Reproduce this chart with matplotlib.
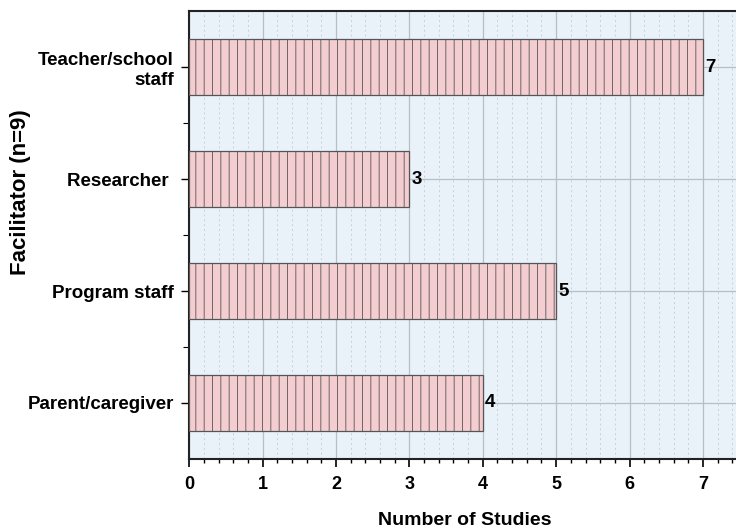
import matplotlib.pyplot as plt
from matplotlib.ticker import MultipleLocator

plt.rcParams['font.family'] = ['Liberation Sans', 'DejaVu Sans']
plt.rcParams['hatch.linewidth'] = 0.6
plt.rcParams['hatch.color'] = '#9a8888'

# data, bottom to top
categories = ['Parent/caregiver', 'Program staff', 'Researcher ', 'Teacher/school\nstaff']
studies = [4, 5, 3, 7]

BG = '#e9f1f9'
BAR = '#f4cdd1'


def main():
    fig = plt.figure(figsize=(7.36, 5.30), dpi=100)
    ax = fig.add_axes([0.257, 0.134, 0.748, 0.845])
    ax.set_facecolor(BG)

    y = list(range(len(categories)))
    ax.barh(y, studies, height=0.5, color=BAR, edgecolor='#555555',
            linewidth=0.9, hatch='||', zorder=3)

    for yi, v in zip(y, studies):
        ax.text(v + 0.03, yi, str(v), va='center', ha='left',
                fontsize=13.5, fontweight='bold', zorder=4)

    ax.set_xlim(0, 7.5)
    ax.set_ylim(-0.5, 3.5)
    ax.set_yticks(y)
    ax.set_yticklabels(categories, fontsize=13.5, fontweight='bold')
    ax.set_yticks([0.5, 1.5, 2.5], minor=True)
    ax.xaxis.set_major_locator(MultipleLocator(1))
    ax.xaxis.set_minor_locator(MultipleLocator(0.2))
    for lab in ax.get_xticklabels():
        lab.set_fontweight('bold')
    ax.tick_params(axis='x', labelsize=13, length=6, width=1.2, pad=6)
    ax.tick_params(axis='x', which='minor', length=3, width=1.0)
    ax.tick_params(axis='y', length=6, width=1.0, pad=5)
    ax.tick_params(axis='y', which='minor', length=4, width=0.8)

    ax.grid(True, which='major', color='#b8bec6', linewidth=0.9, zorder=1)
    ax.grid(True, which='minor', axis='x', color='#c8cfd8', linewidth=0.7,
            linestyle=(0, (2, 3)), zorder=1)
    ax.grid(False, which='minor', axis='y')
    ax.set_axisbelow(True)

    for side in ['left', 'bottom', 'top']:
        ax.spines[side].set_linewidth(1.5)
        ax.spines[side].set_color('#222222')
    ax.spines['right'].set_visible(False)

    ax.set_xlabel('Number of Studies', fontsize=14, fontweight='bold', labelpad=14)
    ax.set_ylabel('Facilitator (n=9)', fontsize=16, fontweight='bold')
    ax.yaxis.set_label_coords(-0.287, 0.596)

    fig.savefig('out.png', dpi=100)
    plt.close(fig)


if __name__ == '__main__':
    main()
